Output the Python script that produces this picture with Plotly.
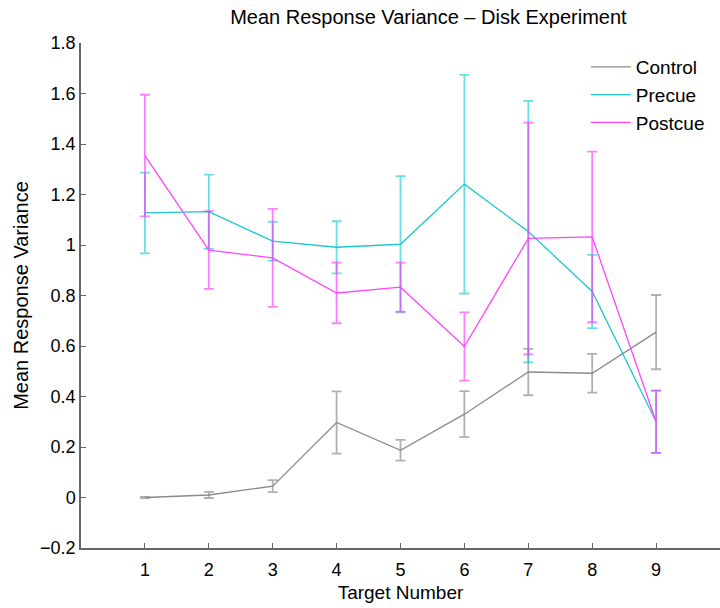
import plotly.graph_objects as go

targets = [1, 2, 3, 4, 5, 6, 7, 8, 9]

control = [0.0, 0.010, 0.045, 0.297, 0.187, 0.330, 0.497, 0.492, 0.655]
control_err = [0.002, 0.012, 0.024, 0.123, 0.041, 0.091, 0.092, 0.077, 0.147]

precue = [1.127, 1.132, 1.015, 0.991, 1.003, 1.241, 1.053, 0.816, 0.300]
precue_err = [0.160, 0.147, 0.077, 0.103, 0.270, 0.433, 0.518, 0.145, 0.123]

postcue = [1.354, 0.980, 0.949, 0.810, 0.833, 0.598, 1.026, 1.032, 0.300]
postcue_err = [0.241, 0.154, 0.194, 0.120, 0.097, 0.135, 0.459, 0.338, 0.123]

y_ticks = [-0.2, 0, 0.2, 0.4, 0.6, 0.8, 1, 1.2, 1.4, 1.6, 1.8]
y_labels = ["\u22120.2", "0", "0.2", "0.4", "0.6", "0.8", "1", "1.2", "1.4", "1.6", "1.8"]

series = [
    ("Control", control, control_err, "#8a8a8a", "rgba(150,150,150,0.75)"),
    ("Precue", precue, precue_err, "#1cc9cc", "rgba(0,200,210,0.6)"),
    ("Postcue", postcue, postcue_err, "#ff44ff", "rgba(255,40,255,0.6)"),
]

fig = go.Figure()
for name, vals, errs, lc, ec in series:
    fig.add_trace(go.Scatter(
        x=targets, y=vals, name=name, mode="lines",
        line=dict(color=lc, width=1.3),
        error_y=dict(type="data", array=errs, visible=True,
                     color=ec, thickness=1.8, width=5),
    ))

font = "Liberation Sans, Arial, Helvetica, sans-serif"
fig.update_layout(
    width=720, height=608,
    margin=dict(l=81, r=0, t=43, b=60),
    paper_bgcolor="white", plot_bgcolor="white",
    font=dict(family=font, size=18, color="black"),
    title=dict(text="Mean Response Variance \u2013 Disk Experiment",
               x=0.595, xanchor="center", y=0.984, yanchor="top",
               font=dict(size=20, color="black")),
    showlegend=True,
    legend=dict(x=0.79, y=0.99, xanchor="left", yanchor="top",
                bgcolor="rgba(0,0,0,0)", font=dict(size=19),
                tracegroupgap=0, itemwidth=40),
)
fig.update_xaxes(
    range=[0, 10], tickvals=targets, ticktext=[str(t) for t in targets],
    showline=True, linecolor="#666", linewidth=1.5, mirror=False,
    ticks="inside", ticklen=5, tickcolor="#666", tickwidth=1,
    showgrid=False, zeroline=False,
    tickfont=dict(size=18), ticklabelstandoff=5,
    title=dict(text="Target Number", font=dict(size=19), standoff=6),
)
fig.update_yaxes(
    range=[-0.2, 1.8], tickvals=y_ticks, ticktext=y_labels,
    showline=True, linecolor="#666", linewidth=1.5, mirror=False,
    ticks="inside", ticklen=5, tickcolor="#666", tickwidth=1,
    showgrid=False, zeroline=False,
    tickfont=dict(size=18),
    title=dict(text="Mean Response Variance", font=dict(size=20), standoff=6),
)

fig.write_html("out.html")
